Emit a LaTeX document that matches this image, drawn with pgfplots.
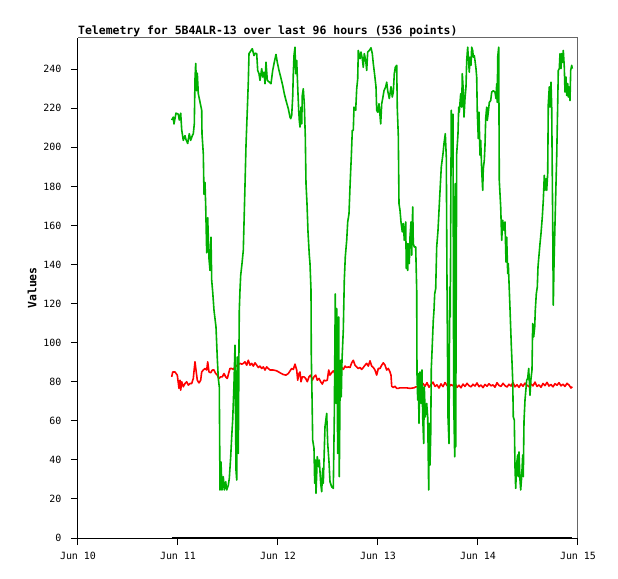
\documentclass[border=0pt]{standalone}
\usepackage{fontspec}
\usepackage{pgfplots}
\pgfplotsset{compat=1.18}
\newfontfamily\mono{DejaVu Sans Mono}
\definecolor{tgreen}{RGB}{0,176,0}
\definecolor{tred}{RGB}{255,0,0}
\begin{document}
\begin{tikzpicture}
\path[use as bounding box] (-78bp,-41bp) rectangle (540bp,538bp);
\begin{axis}[
  scale only axis, width=500bp, height=500bp,
  xmin=0, xmax=5, ymin=0, ymax=256,
  clip=false,
  axis x line*=bottom, axis y line*=left,
  axis line style={black, line width=1bp},
  xtick={0,1,2,3,4,5},
  xticklabels={Jun 10,Jun 11,Jun 12,Jun 13,Jun 14,Jun 15},
  ytick={0,20,...,240},
  tick align=outside,
  major tick length=7bp,
  tick style={black, line width=1bp},
  /pgf/number format/assume math mode=true,
  tick label style={font=\mono\fontsize{10}{12}\selectfont},
  xticklabel style={yshift=-4bp},
  yticklabel style={xshift=-6bp},
  every axis title shift=0pt,
  title={Telemetry for 5B4ALR-13 over last 96 hours (536 points)},
  title style={at={(0,1)}, anchor=base west, yshift=3.5bp, inner sep=0pt, font=\mono\bfseries\fontsize{11.5}{13}\selectfont},
  ylabel={Values},
  every axis y label/.style={at={([xshift=-46bp]axis description cs:0,0.5)}, rotate=90, anchor=center, font=\mono\bfseries\fontsize{11.5}{13}\selectfont},
]
\draw[gray!80!black, line width=1bp] (rel axis cs:0,1) -- (rel axis cs:1,1) -- (rel axis cs:1,0);
% red series
\addplot[tred, line width=1.6bp, line join=round] coordinates {
(0.937,82.5)(0.947,85)(0.97,85)(0.993,83.4)(1.01,76.6)(1.02,80.8)(1.027,75.7)(1.037,80)(1.053,77.4)(1.07,79.1)(1.087,80)(1.103,78.3)(1.12,79.1)(1.137,79.1)(1.153,81.7)(1.163,86.8)(1.17,90.2)(1.18,86)(1.193,80.8)(1.21,79.4)(1.227,80.8)(1.237,85)(1.253,86)(1.27,86.8)(1.287,86)(1.297,90.2)(1.31,85)(1.327,84.6)(1.343,86)(1.36,86)(1.377,84.2)(1.393,83.4)(1.41,81.7)(1.427,82.5)(1.443,82.5)(1.46,84.2)(1.477,82.5)(1.493,81.7)(1.51,85)(1.52,86.8)(1.537,86.8)(1.553,86.3)(1.57,87.6)(1.593,88.5)(1.62,89.4)(1.637,89)(1.653,89.4)(1.67,90.2)(1.687,88.5)(1.703,91)(1.72,88.5)(1.737,89.4)(1.753,88)(1.77,89.7)(1.787,88.5)(1.803,87.3)(1.82,88)(1.837,86.8)(1.853,87.6)(1.87,86)(1.887,87.6)(1.903,86.8)(1.92,86)(1.937,86)(1.953,86)(1.987,85.6)(2.02,84.6)(2.053,83.7)(2.08,83.4)(2.103,84.2)(2.137,86.8)(2.153,86.3)(2.17,89)(2.187,86)(2.197,80.8)(2.21,84.2)(2.22,85)(2.23,80)(2.243,82.5)(2.26,82.5)(2.277,81.7)(2.293,80)(2.31,82.5)(2.327,83.4)(2.343,80.8)(2.36,82.5)(2.377,83.4)(2.393,80.8)(2.41,81.7)(2.427,80)(2.443,78.8)(2.46,80.8)(2.477,80.5)(2.493,80.8)(2.507,86)(2.52,83.4)(2.537,84.6)(2.553,85.6)(2.57,84.2)(2.587,86)(2.603,86.8)(2.62,86)(2.637,87.3)(2.653,86.3)(2.67,88)(2.687,87.3)(2.703,87.6)(2.72,87.3)(2.737,89.7)(2.753,91)(2.77,88.5)(2.787,87.6)(2.803,86.8)(2.82,87.3)(2.837,86.3)(2.853,87.3)(2.87,88.5)(2.887,89.4)(2.903,88)(2.92,90.7)(2.937,88)(2.953,87.3)(2.97,86)(2.987,83.4)(3.003,86.8)(3.02,86.8)(3.037,88.5)(3.053,89.7)(3.07,88.5)(3.087,86)(3.103,86.8)(3.12,85)(3.13,83.4)(3.137,77.7)(3.153,77.1)(3.17,77.7)(3.187,76.6)(3.203,76.6)(3.22,76.9)(3.25,76.9)(3.283,76.9)(3.32,76.6)(3.36,76.9)(3.38,77.4)(3.41,77.4)(3.43,78)(3.45,79.1)
(3.47,77.7)(3.49,79.5)(3.51,77.2)(3.53,78.5)(3.55,79.8)(3.57,77.6)(3.59,78.4)(3.61,76.8)(3.63,78.9)(3.65,77.5)(3.67,79.6)(3.69,78.1)(3.71,77.3)(3.73,78.6)(3.75,77.9)(3.77,79.3)(3.79,77.1)(3.81,78.2)(3.83,76.9)(3.85,78.8)(3.87,77.6)(3.89,79.2)(3.91,78.0)(3.93,77.4)(3.95,78.7)(3.97,77.8)(3.99,79.4)(4.01,77.5)(4.03,78.3)(4.05,77.0)(4.07,78.6)(4.09,77.7)(4.11,79.0)(4.13,77.9)(4.15,78.4)(4.17,77.2)(4.19,79.5)(4.21,78.1)(4.23,77.6)(4.25,79.2)(4.27,78.0)(4.29,77.3)(4.31,78.7)(4.33,77.8)(4.35,79.6)(4.37,77.4)(4.39,78.5)(4.41,77.1)(4.43,78.9)(4.45,77.7)(4.47,79.3)(4.49,78.2)(4.51,77.5)(4.53,78.8)(4.55,77.9)(4.57,79.8)(4.59,77.6)(4.61,78.4)(4.63,77.2)(4.65,79.1)(4.67,78.0)(4.69,79.7)(4.71,77.8)(4.73,78.6)(4.75,77.4)(4.77,79.0)(4.79,78.2)(4.81,79.5)(4.83,77.9)(4.85,78.7)(4.87,77.6)(4.89,79.2)(4.91,78.3)(4.93,76.8)(4.943,77.5)
};
% green series
\addplot[tgreen, line width=1.6bp, line join=round] coordinates {
(0.937,214)(0.953,215.5)(0.96,212)(0.98,217.5)(1.003,217)(1.013,214)(1.027,217.5)(1.037,209)(1.053,203.6)(1.07,206)(1.08,204)(1.097,202)(1.113,207)(1.127,203.6)(1.143,206)(1.153,207)(1.163,212)(1.17,235)(1.177,243)(1.187,229)(1.193,238)(1.203,227.5)(1.213,225)(1.227,221.5)(1.237,219)(1.24,207)(1.253,196.8)(1.26,176)(1.27,182)(1.277,170)(1.287,146)(1.297,164)(1.31,143)(1.32,137)(1.33,154)(1.337,132)(1.347,126)(1.36,116.6)(1.38,108)(1.393,92)(1.403,81.7)(1.413,77.4)(1.42,24.6)(1.43,39)(1.44,24.6)(1.453,31.4)(1.463,24.6)(1.477,28.8)(1.487,24.6)(1.503,27)(1.513,30.5)(1.527,41.6)(1.537,51.8)(1.547,60.4)(1.56,79)(1.57,98.7)(1.58,34.8)(1.587,29.7)(1.593,92.7)(1.603,43.3)(1.61,98.7)(1.613,116.6)(1.62,127)(1.627,134.5)(1.64,140.5)(1.653,147.3)(1.67,180.6)(1.68,201)(1.693,219)(1.703,233.4)(1.71,248)(1.727,249.3)(1.743,250.5)(1.76,247)(1.77,248.2)(1.787,248)(1.797,239.4)(1.81,237.7)(1.82,234.3)(1.837,240.3)(1.847,236)(1.86,238.5)(1.87,232.6)(1.88,243.6)(1.893,234.3)(1.913,233.4)(1.93,232.6)(1.947,239.4)(1.963,243.6)(1.98,247.6)(1.993,243.6)(2.01,239.4)(2.027,236)(2.047,231.7)(2.063,227.5)(2.08,224)(2.103,219.8)(2.12,215.5)(2.127,214.7)(2.137,216.4)(2.147,225.8)(2.153,237.7)(2.16,247)(2.17,251.3)(2.177,237.7)(2.187,244.5)(2.197,231)(2.207,219)(2.213,213.8)(2.22,210.4)(2.23,220.6)(2.237,212)(2.243,226.6)(2.253,230)(2.263,222.3)(2.273,205.5)(2.28,181.4)(2.29,171.2)(2.30,156.7)(2.313,144.8)(2.32,140.5)(2.33,127)(2.333,93.6)(2.34,73.1)(2.347,50.1)(2.36,45.9)(2.367,28)(2.377,39.9)(2.38,22.9)(2.393,41.6)(2.407,36.5)(2.413,39.9)(2.427,28)(2.437,23.7)(2.447,35.6)(2.453,28)(2.47,57)(2.487,63.8)(2.497,48.4)(2.51,39)(2.52,28.8)(2.537,26.2)(2.553,25.4)(2.563,62)(2.573,125)(2.58,68.9)(2.587,117.5)(2.597,43.3)(2.607,113.2)(2.613,31.4)(2.623,91)(2.633,72.3)(2.64,91)(2.653,106.4)(2.663,132)(2.673,144)(2.687,152.4)(2.697,161.8)(2.71,166)(2.72,179.7)(2.727,188.2)(2.733,195)(2.743,208.7)(2.753,208.7)(2.76,220.6)(2.777,219)(2.787,230)(2.797,235)(2.803,249.6)(2.82,245.4)(2.83,248.8)(2.843,245.4)(2.853,241)(2.863,248)(2.877,244.5)(2.887,239.4)(2.897,248.8)(2.913,249.6)(2.93,251)(2.943,248)(2.953,242.9)(2.967,237)(2.98,231)(2.987,219)(2.997,218)(3.01,222.3)(3.02,216.4)(3.027,212)(3.037,222.3)(3.047,225)(3.06,229)(3.077,231)(3.087,233.4)(3.097,229)(3.113,225)(3.13,231)(3.143,225.8)(3.153,228.3)(3.163,237.7)(3.173,241)(3.187,242)(3.193,219.8)(3.203,206)(3.21,171.2)(3.22,167.8)(3.23,161.8)(3.243,156.7)(3.253,161)(3.263,152.4)(3.277,161.8)(3.283,138)(3.293,150.7)(3.297,137)(3.303,150.7)(3.313,140.5)(3.32,154)(3.33,161.8)(3.337,144.8)(3.347,169.5)(3.353,150.7)(3.363,149)(3.377,149)(3.387,127)(3.39,84.2)(3.397,70.6)(3.403,84.2)(3.41,58.7)(3.42,85)(3.43,68.9)(3.44,86)(3.447,62)(3.457,48.4)(3.463,77.4)(3.473,62)(3.487,68.9)(3.497,62)(3.507,24.6)(3.513,58.7)(3.52,37.3)(3.527,52.7)(3.533,86.8)(3.54,95.3)(3.553,111.5)(3.56,116.6)(3.567,125)(3.577,127.7)(3.587,149)(3.60,157.5)(3.617,174.6)(3.633,190)(3.65,196.8)(3.66,202)(3.673,207)(3.683,195)(3.69,130.3)(3.70,62)(3.71,48.4)(3.717,128.5)(3.723,113.2)(3.727,161)(3.733,219)(3.743,190)(3.75,217)(3.757,70.6)(3.767,41.6)(3.773,181.4)(3.777,46.7)(3.787,196.8)(3.80,207)(3.807,220.6)(3.813,218)(3.827,227.5)(3.837,220.6)(3.843,237.7)(3.853,229)(3.86,215.5)(3.87,225)(3.88,231)(3.887,244.5)(3.897,251.3)(3.903,246.2)(3.913,238.5)(3.92,246.2)(3.93,242)(3.937,251.3)(3.947,249.6)(3.953,246.2)(3.963,247)(3.97,244.5)(3.98,240.3)(3.987,236)(3.993,218)(4.003,204.5)(4.01,218)(4.02,196)(4.027,203.6)(4.037,188.2)(4.047,178)(4.053,189)(4.063,193.4)(4.07,201)(4.077,214.7)(4.087,220.6)(4.093,213.8)(4.103,218)(4.113,223)(4.127,224)(4.137,228.3)(4.153,229)(4.17,228.3)(4.18,225)(4.187,232.6)(4.193,223)(4.197,246.2)(4.207,251.3)(4.213,183)(4.227,169.5)(4.237,152.4)(4.247,162.7)(4.26,157.5)(4.27,161.8)(4.28,141.3)(4.287,154)(4.297,135.4)(4.303,140.5)(4.313,127)(4.32,117.5)(4.333,98.7)(4.34,90.2)(4.347,80.8)(4.353,62)(4.363,60.4)(4.37,36.5)(4.377,25.4)(4.387,38.2)(4.397,42.5)(4.403,31.4)(4.41,44.1)(4.42,29.7)(4.427,24.6)(4.437,31.4)(4.447,42.5)(4.453,31.4)(4.46,59.6)(4.47,70.6)(4.48,76.6)(4.487,80.8)(4.497,81.7)(4.507,86.8)(4.52,73.1)(4.53,81.7)(4.54,86)(4.547,109.8)(4.557,103)(4.567,108)(4.573,116.6)(4.583,125)(4.593,128.5)(4.60,138.8)(4.61,144.8)(4.62,150.7)(4.63,155.9)(4.643,164.3)(4.653,172.9)(4.663,185.7)(4.67,178)(4.68,184)(4.687,178)(4.697,186.6)(4.703,222.3)(4.713,231)(4.72,220.6)(4.73,233.4)(4.737,220.6)(4.747,161.8)(4.753,119.2)(4.76,140)(4.77,161)(4.78,181.4)(4.787,195)(4.797,222.3)(4.803,239.4)(4.813,240.3)(4.82,248)(4.83,240.3)(4.837,248)(4.847,243.6)(4.853,249.6)(4.863,241)(4.87,228.3)(4.88,236)(4.887,226.6)(4.897,232.6)(4.903,225.8)(4.91,231)(4.92,224)(4.927,239.4)(4.937,242)(4.943,240.3)
};
% black series
\addplot[black, line width=2.4bp] coordinates {(0.94,0)(4.94,0)};
\end{axis}
\end{tikzpicture}
\end{document}
